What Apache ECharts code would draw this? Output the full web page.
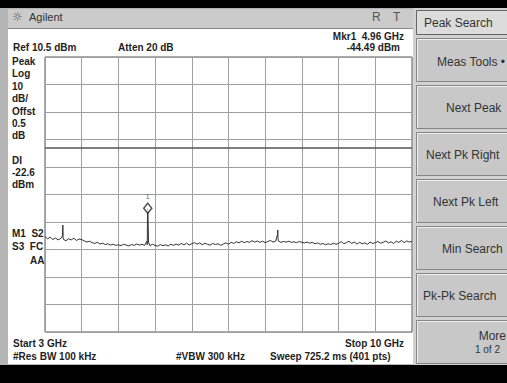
<!DOCTYPE html>
<html><head><meta charset="utf-8">
<script src="https://cdn.jsdelivr.net/npm/echarts@6/dist/echarts.min.js"></script>
<style>html,body{margin:0;padding:0;background:#000;}#c{width:507px;height:383px;}</style>
</head><body><div id="c"></div>
<script>
// Sweep definition
const START_GHZ = 3, STOP_GHZ = 10;
const REF_DBM = 10.5, DB_PER_DIV = 10, DIVS = 10;
const DISPLAY_LINE = -22.6;
// Trace levels (dBm), evenly spaced across the sweep
const traceLevels = [
 -54.8,-55.6,-55.0,-55.9,-55.3,-56.0,-55.5,-55.8,-56.3,-55.6,
 -56.0,-55.4,-56.2,-55.7,-55.9,-56.4,-56.8,-56.5,-57.0,-57.3,
 -56.9,-57.5,-57.2,-57.7,-57.4,-57.9,-57.6,-58.0,-57.8,-58.1,
 -57.6,-57.9,-58.2,-57.7,-58.0,-57.5,-57.9,-57.6,-58.0,-57.8,
 -58.1,-57.6,-58.0,-58.3,-57.7,-58.1,-57.8,-58.2,-57.6,-58.0,
 -57.5,-57.9,-57.3,-57.8,-57.2,-57.9,-57.4,-57.0,-57.6,-57.1,
 -57.8,-57.2,-57.6,-57.9,-57.3,-57.7,-57.4,-58.0,-57.5,-57.1,
 -57.6,-56.9,-57.3,-56.7,-57.1,-56.5,-57.0,-56.6,-56.9,-56.3,
 -56.8,-56.4,-56.9,-56.5,-57.0,-56.6,-56.2,-56.8,-56.5,-56.4,
 -56.9,-56.6,-56.8,-56.5,-56.9,-56.7,-57.0,-56.6,-56.9,-57.1,
 -56.8,-57.2,-56.9,-57.4,-57.1,-57.6,-57.3,-57.8,-57.4,-57.7,
 -57.2,-57.6,-57.3,-56.6,-57.4,-57.0,-56.5,-57.3,-56.8,-57.5,
 -56.9,-57.4,-57.1,-57.6,-56.8,-57.3,-57.0,-56.6,-57.2,-56.9,
 -56.4,-57.1,-56.7,-57.3,-56.5,-56.9,-56.2,-57.0,-56.4,-56.8,
 -56.5
];
// Narrow signals (GHz, dBm)
const spurFreqs  = [3.335, 3.34, 3.345, 4.945, 4.955, 4.96, 4.965, 4.975, 7.435, 7.44, 7.445];
const spurLevels = [-54.5, -50.6, -55.0, -56.5, -47.0, -44.49, -47.0, -56.8, -54.0, -52.4, -55.5];
// Marker 1
const markerFreq = 4.96, markerLevel = -44.49, markerName = '1';

const step = (STOP_GHZ - START_GHZ) / (traceLevels.length - 1);
const trace = traceLevels.map((v, i) => [START_GHZ + i * step, v]);
spurFreqs.forEach((f, i) => trace.push([f, spurLevels[i]]));
trace.sort((a, b) => a[0] - b[0]);

const F = '"Liberation Sans", Arial, sans-serif';
function t(text, x, y, opt) {
  opt = opt || {};
  return { type: 'text', x: x, y: y, z: 50, silent: true,
    style: { text: text, fill: opt.fill || '#1e1e1e', font: (opt.weight || 'bold') + ' ' + (opt.size || 10) + 'px ' + (opt.family || F),
      textAlign: opt.align || 'left', textVerticalAlign: 'middle' } };
}
function r(x, y, w, h, fill, stroke, z) {
  return { type: 'rect', z: z == null ? -10 : z, silent: true, shape: { x: x, y: y, width: w, height: h },
    style: { fill: fill, stroke: stroke || null, lineWidth: 1 } };
}
const g = [];
g.push(r(0, 8, 416, 357, '#b4b4b4'));
g.push(r(8, 9, 405, 19, '#cbcbcb', null, -9));
g.push(r(8, 28, 405, 1, '#8a8a8a', null, -9));
g.push(r(8, 29, 405, 335, '#ffffff', null, -9));
g.push(r(413, 8, 94, 357, '#d2d2d2', null, -9));
// title bar text
g.push(t('☼', 12, 17, { weight: 'normal', size: 12, fill: '#555', family: '"DejaVu Sans", sans-serif' }));
g.push(t('Agilent', 29, 17, { weight: 'normal', size: 11, fill: '#333' }));
g.push(t('R', 372, 17, { weight: 'normal', size: 12, fill: '#555' }));
g.push(t('T', 393, 17, { weight: 'normal', size: 12, fill: '#555' }));
// annotations
g.push(t('Mkr1  4.96 GHz', 404, 36, { align: 'right' }));
g.push(t('-44.49 dBm', 400, 47, { align: 'right' }));
g.push(t('Ref 10.5 dBm', 13, 47));
g.push(t('Atten 20 dB', 118, 47));
[['Peak',61],['Log',73.5],['10',86],['dB/',98.5],['Offst',111],['0.5',123],['dB',135.5],['DI',160],['-22.6',172],['dBm',184.5]]
  .forEach(a => g.push(t(a[0], 12, a[1])));
g.push(t('M1  S2', 12, 233));
g.push(t('S3  FC', 12, 246));
g.push(t('AA', 30, 260));
g.push(t('Start 3 GHz', 13, 343));
g.push(t('Stop 10 GHz', 404, 343, { align: 'right' }));
g.push(t('#Res BW 100 kHz', 13, 356));
g.push(t('#VBW 300 kHz', 176, 356));
g.push(t('Sweep 725.2 ms (401 pts)', 270, 356));
// soft keys
g.push(r(416.5, 10.5, 91, 24, '#dcdcdc', '#666', -8));
g.push(t('Peak Search', 424, 23, { weight: 'normal', size: 12, fill: '#333' }));
const keyTops = [38, 85, 132, 179, 226, 273, 320];
keyTops.forEach(y => {
  g.push(r(416.5, y + 0.5, 92, 43, '#c8c8c8', '#858585', -8));
  g.push(r(417, y + 1, 90, 1, '#efefef', null, -7));
  g.push(r(417, y + 1, 1, 42, '#efefef', null, -7));
});
const keyLabels = [
  ['Meas Tools •', 437, 62, 'left'], ['Next Peak', 446, 108, 'left'], ['Next Pk Right', 426, 155, 'left'],
  ['Next Pk Left', 433, 202, 'left'], ['Min Search', 442, 249, 'left'], ['Pk-Pk Search', 423, 296, 'left'],
  ['More', 506, 336, 'right']
];
keyLabels.forEach(k => g.push(t(k[0], k[1], k[2], { weight: 'normal', size: 12, fill: '#333', align: k[3] })));
g.push(t('1 of 2', 500, 349, { weight: 'normal', size: 10, fill: '#333', align: 'right' }));

const chart = echarts.init(document.getElementById('c'), null, { renderer: 'svg' });
const hidden = { axisLine: { show: false }, axisTick: { show: false }, axisLabel: { show: false }, splitLine: { show: false } };
chart.setOption({
  animation: false,
  graphic: { elements: g },
  grid: { left: 45, top: 57, width: 367, height: 275, show: true, borderColor: '#555', borderWidth: 1, backgroundColor: 'transparent' },
  xAxis: [
    Object.assign({ type: 'value', min: START_GHZ, max: STOP_GHZ }, hidden),
    Object.assign({ type: 'value', min: 0, max: DIVS, interval: 1 }, hidden,
      { splitLine: { show: true, lineStyle: { color: '#a0a0a0', width: 1 } } })
  ],
  yAxis: [
    Object.assign({ type: 'value', min: REF_DBM - DB_PER_DIV * DIVS, max: REF_DBM }, hidden),
    Object.assign({ type: 'value', min: 0, max: DIVS, interval: 1 }, hidden,
      { splitLine: { show: true, lineStyle: { color: '#a0a0a0', width: 1 } } })
  ],
  series: [
    { type: 'line', xAxisIndex: 0, yAxisIndex: 0, data: trace, symbol: 'none', silent: true, z: 5,
      lineStyle: { color: '#333', width: 1 },
      markLine: { silent: true, symbol: 'none', label: { show: false },
        lineStyle: { color: '#555', width: 1.5, type: 'solid' }, data: [{ yAxis: DISPLAY_LINE }] } },
    { type: 'scatter', xAxisIndex: 0, yAxisIndex: 0, data: [[markerFreq, markerLevel]], symbol: 'diamond',
      symbolSize: [8, 10], z: 6, silent: true,
      itemStyle: { color: '#fff', borderColor: '#222', borderWidth: 1.5 },
      label: { show: true, position: 'top', distance: 2, formatter: markerName, fontSize: 7, color: '#333', fontFamily: F } }
  ]
});
</script></body></html>
